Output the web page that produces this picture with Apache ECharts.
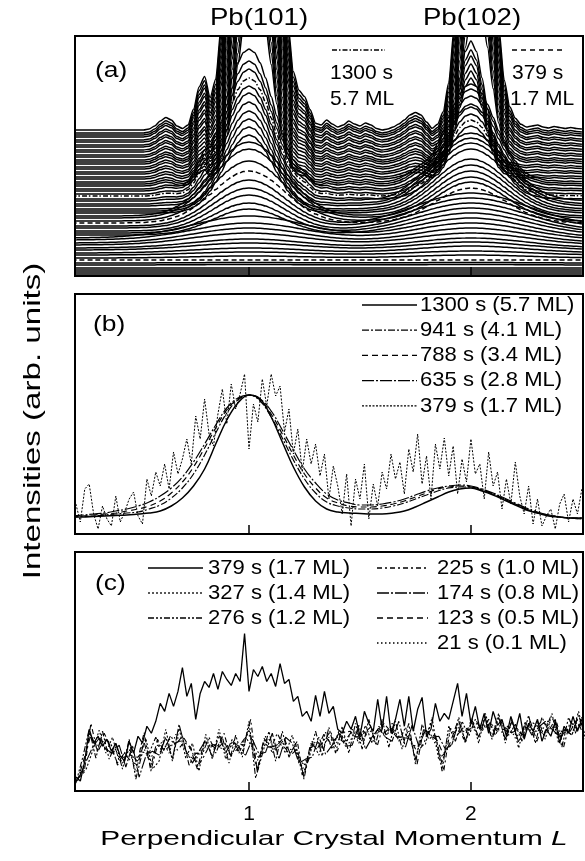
<!DOCTYPE html>
<html>
<head>
<meta charset="utf-8">
<script src="https://cdn.jsdelivr.net/npm/echarts@6/dist/echarts.min.js"></script>
<style>
html, body { margin: 0; padding: 0; background: #fff; }
#main { width: 585px; height: 861px; }
</style>
</head>
<body>
<div id="main"></div>
<script>
var FONT = '"Liberation Sans", Arial, Helvetica, sans-serif';

// ---- panel (a): waterfall of scans, front (0) to back (59)
// baseline of every scan (px-like units above the frame bottom)
var wfBase = [2,4,6,8,11,13,16,18,21,23,26,28,31,33,36,38,41,43,45,48,50,53,55,58,60,63,
    65,67,70,72,75,77,80,82,85,87,90,92,94,97,99,102,104,107,109,112,114,116,119,121,124,
    126,129,131,134,136,139,141,143,146];
// height of Pb(101) above the baseline
var wfPeak1 = [0,0,0,0,0.5,0.5,0,2,3,5,7,9,12,15,17,22,26,30,36,40,46,52,60,69,74,78,84,
    90,95,102,108,113,118,125,130,140,200,215,230,245,262,280,300,320,340,362,385,410,435,
    460,490,520,550,580,610,640,670,700,735,770];
// height of Pb(102) above the baseline
var wfPeak2 = [0,0,0,0,0.5,0.5,0,3,4,7,8,10,12,15,17,20,22,25,28,30,33,35,39,41,45,48,52,
    60,63,66,68,73,76,80,84,85,90,95,98,101,106,110,116,119,126,165,180,195,210,225,240,
    258,276,295,315,335,355,375,395,415];
// peak positions as index on the L grid (0.20 + 0.025 * index)
var wfCentre1 = [32,32,32,32,32,32,32,32,32,32,32,32,32,32,32,32,32,32,32,32,32,32,32,32,
    32,32,32,32,32,32,32,32,32,32,32,32,33,33,33,33,33,33,33,33,33,33,33,33,33,33,33,33,33,
    33,33,33,33,33,33,33];
var wfCentre2 = [72,72,72,72,72,72,72,72,72,72,72,72,72,72,72,72,72,72,72,72,72,72,72,72,
    72,72,72,72,72,72,72,72,72,72,72,72,72,72,72,72,72,72,72,72,72,73,73,73,73,73,73,73,73,
    73,73,73,73,73,73,73];
// peak width class (0 broad ... 4 sharp)
var wfWidth1 = [0,0,0,0,0,0,0,0,0,0,0,0,0,0,0,0,1,1,1,1,1,1,1,1,1,2,2,2,2,2,2,2,2,2,2,2,
    3,3,3,3,3,3,3,3,3,3,3,3,3,3,3,3,3,3,3,3,3,3,3,3];
var wfWidth2 = [0,0,0,0,0,0,0,0,0,0,0,0,0,0,0,0,0,0,0,0,0,1,1,1,1,1,1,1,1,1,1,2,2,2,2,2,
    2,2,2,4,4,4,4,4,4,4,4,4,4,4,4,4,4,4,4,4,4,4,4,4];
// thickness fringe strength
var wfFringe = [0,0,0,0,0,0,0,0,0,0,0,0,0,0,0,0,0,0,0,0,0,0,0,0,0,0,0,0,
    3,5,6,8,10,11,13,14,16,17,19,20,22,23,25,26,28,29,31,32,34,35,37,38,40,41,43,44,46,47,49,50];
// peak profiles, step 0.025 in L away from the peak centre
var peakShapes = [
    [1,.995,.98,.956,.923,.882,.835,.783,.726,.667,.607,.546,.487,.43,.375,.325,.278,.236,.198,
     .164,.135,.11,.089,.071,.056,.044,.034,.026,.02,.015,.011,.008,.006,.004,.003,.002,.0015],
    [1,.988,.952,.896,.823,.737,.644,.55,.458,.372,.295,.228,.172,.127,.091,.064,.044,.029,.019,
     .012,.0076,.0046,.0027,.0016,.0009],
    [1,.975,.902,.793,.661,.524,.395,.282,.191,.123,.076,.044,.024,.013,.006,.003,.0014],
    [1,.946,.801,.607,.411,.249,.135,.066,.029,.011,.004,.001],
    [1,.917,.707,.458,.249,.114,.044,.014,.004,.001]
];
// fringe profile on the L grid 0.20 .. 2.50 step 0.025
var fringeShape = [0,0,0,0,0,0,0,0,0,0,0,0,0,0,.02,.08,.18,.25,.2,.08,.03,.1,.4,.8,.9,.2,0,
    0,0,0,0,0,0,0,0,0,0,0,0,.05,.15,.35,.5,.35,.12,.1,.2,.12,.06,.1,.18,.12,.08,.14,.1,.03,0,
    .02,.06,.12,.2,.3,.35,.3,.15,0,0,0,0,0,0,0,0,0,0,0,0,0,.05,.1,.12,.08,.05,.08,.1,.06,.04,
    .07,.05,.03,.05,.03,.02];

// ---- panel (b): normalised profiles, L = 0.20 .. 2.50 step 0.05
var b1300 = [17,17,17.5,18,18.5,19,20,21,23,28,36,48,65,90,114,131,139,135,117,92,
    67,47,33,25,22,21,20.5,20,20,21,23,27,32,37,42,45,46,43,39,34,29,24,21,18,17,16,16];
var b941 = [17,17.5,18,19,20,21,22,25,29,36,46,60,79,101,121,134,139,133,117,96,
    74,55,41,32,28,26,25,25,26,28,31,35,39,43,46,47,47,44,40,35,30,25,21,19,17,16,16];
var b788 = [17,18,19,20,21,23,25,28,33,41,52,67,86,106,124,135,139,134,120,100,
    79,60,46,36,31,28,27,27,28,30,33,37,41,45,47,48,47,44,40,35,30,25,21,19,17,16,15];
var b635 = [18,19,20,21,23,25,28,32,38,46,57,72,90,109,126,136,139,135,123,104,
    84,65,51,40,34,31,29,29,30,32,35,39,43,46,48,49,48,45,41,36,31,26,22,19,17,16,15];
// L = 0.22 .. 2.50 step 0.02
var b379 = [30,12,45,50,20,5,28,15,8,38,12,22,35,42,18,10,55,38,62,48,70,45,82,60,75,95,
    70,118,95,135,100,88,120,145,110,150,125,140,160,85,130,112,155,128,160,138,148,102,
    125,80,105,62,95,70,90,58,80,35,68,48,20,60,8,55,35,70,15,50,28,62,45,80,55,72,40,85,
    62,100,50,78,35,90,65,96,58,88,40,75,52,95,60,70,35,82,48,62,25,55,30,72,38,20,48,10,
    35,8,18,25,5,30,40,12,35,20,45];

// ---- panel (c): early scans
// L = 0.22 .. 2.50 step 0.02
var c379 = [14,10,30,62,48,55,45,52,40,48,35,30,50,38,55,48,65,58,70,88,80,98,85,100,124,
    95,108,72,98,110,104,118,102,120,112,106,118,110,158,100,122,115,125,110,118,105,128,
    108,112,90,95,75,80,70,96,75,100,78,85,62,58,70,62,75,55,80,68,60,92,62,95,58,72,92,65,
    95,60,82,94,55,62,88,70,78,72,90,108,75,98,68,85,62,78,58,80,66,72,55,75,60,78,52,68,
    60,72,50,62,55,70,48,65,58,75,60,72];
// 77 samples, step 0.03 in L (start given with each curve below)
var c327 = [18,21,40,61,38,54,30,40,34,34,53,22,30,62,30,63,33,48,20,57,32,62,32,50,38,54,
    44,33,55,38,50,38,56,30,26,50,36,59,42,60,47,62,48,66,48,65,54,68,50,64,46,45,47,74,31,
    40,47,74,48,73,48,78,54,78,48,72,43,70,58,70,52,78,48,62,56,80,52];
var c276 = [8,33,62,33,60,32,48,22,52,12,39,38,54,38,52,47,55,26,38,37,54,38,54,28,56,34,
    70,13,37,60,30,60,34,48,16,32,60,35,64,38,65,38,68,42,72,47,72,44,70,42,68,27,67,52,57,
    20,65,50,70,55,72,60,72,56,70,56,67,50,76,48,74,60,72,44,74,58,74];
var c225 = [12,19,68,39,52,48,26,34,36,30,59,20,46,42,56,41,49,44,24,35,48,44,58,34,48,46,
    72,19,49,42,58,44,38,50,12,44,42,51,60,40,59,60,52,58,64,45,68,60,54,58,52,39,47,68,49,
    20,63,56,64,61,68,62,68,62,66,58,63,54,70,66,56,74,68,44,70,62,70];
var c174 = [14,29,44,53,42,38,46,24,46,14,35,40,36,54,32,67,41,28,40,51,34,56,38,52,40,36,
    52,37,39,58,32,54,48,28,32,34,54,37,46,58,45,46,66,42,54,63,54,50,70,44,66,45,61,54,55,
    42,47,70,50,71,54,74,52,74,52,70,49,68,56,64,70,62,56,62,56,76,56];
var c123 = [10,33,56,41,58,44,28,38,30,26,49,24,52,40,46,49,53,42,22,49,46,42,50,36,42,52,
    56,21,53,44,46,54,36,42,14,48,42,57,48,54,49,58,54,60,52,61,58,64,54,54,52,27,63,56,51,
    36,49,68,52,69,64,64,68,60,62,58,61,56,70,50,68,64,64,58,60,72,56];
var c21 = [10,20,55,46,46,38,40,28,42,19,46,31,41,50,38,57,46,35,31,43,43,47,42,43,48,40,
    62,26,43,52,41,50,42,41,21,38,50,43,54,47,56,48,60,50,61,57,61,58,58,51,60,32,57,61,47,
    28,57,61,59,63,61,67,64,64,59,66,53,61,65,60,61,71,58,55,63,69,64];

var tickL = [1, 2];

function grid(start, step, n) {
    var res = [];
    for (var k = 0; k < n; k++) res.push(+(start + step * k).toFixed(4));
    return res;
}
function pairs(xs, ys) {
    return ys.map(function (v, i) { return [xs[i], v]; });
}
function shapeAt(c, d) {
    var s = peakShapes[c];
    return d < s.length ? s[d] : 0;
}

var lA = grid(0.2, 0.025, 93);
var lB = grid(0.2, 0.05, 47);
var lN = grid(0.22, 0.02, 115);
var lC0 = grid(0.22, 0.03, 77);
var lC1 = grid(0.235, 0.03, 77);
var lC2 = grid(0.2275, 0.03, 77);

var series = [];

// waterfall, back scans first so the front ones hide them
for (var i = wfBase.length - 1; i >= 0; i--) {
    var ys = [];
    for (var k = 0; k < lA.length; k++) {
        ys.push(wfBase[i] +
            wfPeak1[i] * shapeAt(wfWidth1[i], Math.abs(k - wfCentre1[i])) +
            wfPeak2[i] * shapeAt(wfWidth2[i], Math.abs(k - wfCentre2[i])) +
            wfFringe[i] * fringeShape[k]);
    }
    var dash = 'solid';
    if (i === 6 || i === 21) dash = [5, 3];
    if (i === 32) dash = [5, 2, 1.5, 2];
    series.push({
        type: 'line', xAxisIndex: 0, yAxisIndex: 0, data: pairs(lA, ys),
        symbol: 'none', smooth: 0.25, smoothMonotone: 'x', silent: true,
        lineStyle: { color: '#000', width: 1.5, type: dash },
        areaStyle: { color: '#fff', opacity: 1 }
    });
}

function lineSeries(axis, xs, ys, dash, width, smooth) {
    return {
        type: 'line', xAxisIndex: axis, yAxisIndex: axis, data: pairs(xs, ys),
        symbol: 'none', smooth: smooth, silent: true,
        lineStyle: { color: '#000', width: width, type: dash }
    };
}

series.push(lineSeries(1, lN, b379, [2, 1.5], 1, false));
series.push(lineSeries(1, lB, b635, [12, 2, 2, 2], 1.2, 0.4));
series.push(lineSeries(1, lB, b788, [6, 4], 1.2, 0.4));
series.push(lineSeries(1, lB, b941, [7, 2, 2, 2], 1.2, 0.4));
series.push(lineSeries(1, lB, b1300, 'solid', 1.5, 0.4));

series.push(lineSeries(2, lC0, c21, [1.5, 2.5], 1.1, false));
series.push(lineSeries(2, lC2, c123, [6, 4], 1.1, false));
series.push(lineSeries(2, lC1, c174, [12, 2, 2, 2], 1.1, false));
series.push(lineSeries(2, lC2, c225, [5, 3, 2, 3], 1.1, false));
series.push(lineSeries(2, lC0, c276, [6, 2, 2, 2, 2, 2], 1.1, false));
series.push(lineSeries(2, lC1, c327, [2, 2], 1.1, false));
series.push(lineSeries(2, lN, c379, 'solid', 1.3, false));

var grids = [
    { left: 75, top: 36, width: 508, height: 240 },
    { left: 75, top: 294, width: 508, height: 240 },
    { left: 75, top: 552, width: 508, height: 239 }
];

function xAxis(idx, labels) {
    return {
        type: 'value', gridIndex: idx, min: 0.216, max: 2.505, z: 10,
        axisLine: { show: false },
        splitLine: { show: false },
        axisTick: { show: true, inside: true, length: 9, customValues: tickL,
            lineStyle: { color: '#000', width: 1.5 } },
        axisLabel: { show: labels, customValues: tickL, margin: 13,
            color: '#000', fontSize: 21, fontFamily: FONT }
    };
}
function yAxis(idx) {
    return { type: 'value', gridIndex: idx, min: 0, max: 240, show: false };
}

var gfx = [];
grids.forEach(function (g) {
    gfx.push({ type: 'rect', z: 100, silent: true,
        shape: { x: g.left, y: g.top, width: g.width, height: g.height },
        style: { fill: 'none', stroke: '#000', lineWidth: 2 } });
});
function txt(s, x, y, size, align, sx, extra) {
    var el = { type: 'text', x: x, y: y, z: 101, scaleX: sx || 1, silent: true,
        style: { text: s, font: size + 'px ' + FONT, fill: '#000',
            align: align, verticalAlign: 'middle' } };
    if (extra) for (var key in extra) el[key] = extra[key];
    return el;
}
function sample(x1, x2, y, dash) {
    return { type: 'line', z: 101, silent: true,
        shape: { x1: x1, y1: y, x2: x2, y2: y },
        style: { stroke: '#000', lineWidth: 1.3, lineDash: dash } };
}

gfx.push(txt('Pb(101)', 259, 18, 24, 'center', 1.15));
gfx.push(txt('Pb(102)', 472, 18, 24, 'center', 1.15));
gfx.push(txt('(a)', 95, 71, 22, 'left', 1.2));
gfx.push(sample(332, 385, 50, [5, 2, 1.5, 2]));
gfx.push(txt('1300 s', 330, 73, 21, 'left', 1.0));
gfx.push(txt('5.7 ML', 330, 99, 21, 'left', 1.0));
gfx.push(sample(512, 565, 50, [5, 4]));
gfx.push(txt('379 s', 512, 73, 21, 'left', 1.0));
gfx.push(txt('1.7 ML', 510, 99, 21, 'left', 1.0));

gfx.push(txt('(b)', 93, 325, 22, 'left', 1.2));
var legB = [
    ['1300 s (5.7 ML)', null],
    ['941 s (4.1 ML)', [7, 2, 2, 2]],
    ['788 s (3.4 ML)', [6, 4]],
    ['635 s (2.8 ML)', [12, 2, 2, 2]],
    ['379 s (1.7 ML)', [2, 1.5]]
];
legB.forEach(function (e, r) {
    var y = 305 + r * 25.2;
    gfx.push(sample(362, 417, y, e[1]));
    gfx.push(txt(e[0], 420, y, 21, 'left', 1.05));
});

gfx.push(txt('(c)', 95, 584, 22, 'left', 1.2));
var legC1 = [
    ['379 s (1.7 ML)', null],
    ['327 s (1.4 ML)', [2, 2]],
    ['276 s (1.2 ML)', [6, 2, 2, 2, 2, 2]]
];
var legC2 = [
    ['225 s (1.0 ML)', [5, 3, 2, 3]],
    ['174 s (0.8 ML)', [12, 2, 2, 2]],
    ['123 s (0.5 ML)', [6, 4]],
    ['21 s (0.1 ML)', [1.5, 2.5]]
];
legC1.forEach(function (e, r) {
    var y = 568 + r * 25;
    gfx.push(sample(148, 203, y, e[1]));
    gfx.push(txt(e[0], 208, y, 21, 'left', 1.05));
});
legC2.forEach(function (e, r) {
    var y = 568 + r * 25;
    gfx.push(sample(377, 428, y, e[1]));
    gfx.push(txt(e[0], 437, y, 21, 'left', 1.05));
});

gfx.push({ type: 'text', x: 334, y: 839, z: 101, scaleX: 1.42, silent: true,
    style: { text: 'Perpendicular Crystal Momentum {i|L}', font: '21px ' + FONT,
        fill: '#000', align: 'center', verticalAlign: 'middle',
        rich: { i: { fontStyle: 'italic', fontSize: 21, fontFamily: FONT } } } });
gfx.push(txt('Intensities (arb. units)', 33, 421, 24, 'center', 1.38,
    { rotation: Math.PI / 2 }));

var chart = echarts.init(document.getElementById('main'));
chart.setOption({
    backgroundColor: '#fff',
    animation: false,
    grid: grids,
    xAxis: [xAxis(0, false), xAxis(1, false), xAxis(2, true)],
    yAxis: [yAxis(0), yAxis(1), yAxis(2)],
    series: series,
    graphic: { elements: gfx }
});
</script>
</body>
</html>
